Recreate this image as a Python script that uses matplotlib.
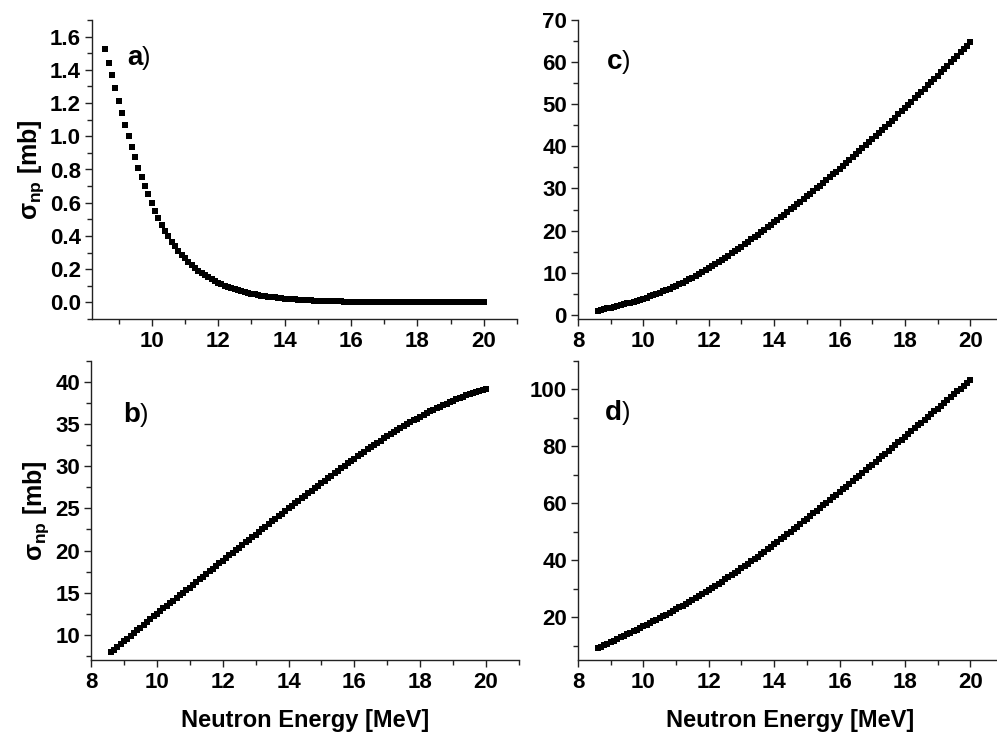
import numpy as np
import matplotlib
matplotlib.use('Agg')
import matplotlib.pyplot as plt
from matplotlib.ticker import MultipleLocator

plt.rcParams['font.family'] = ['Liberation Sans', 'DejaVu Sans']
plt.rcParams['font.weight'] = 'bold'
plt.rcParams['mathtext.fontset'] = 'custom'
plt.rcParams['mathtext.rm'] = 'Liberation Sans:bold'
plt.rcParams['mathtext.it'] = 'Liberation Sans:bold'
plt.rcParams['mathtext.bf'] = 'Liberation Sans:bold'

# neutron energy grid, 8.6 .. 20.0 MeV
energy = np.round(np.arange(86, 201) / 10.0, 1)

sigma_a = [1.523, 1.444, 1.366, 1.289, 1.214, 1.141, 1.069, 0.999, 0.934, 0.873,
           0.812, 0.754, 0.701, 0.650, 0.600, 0.553, 0.509, 0.467, 0.431, 0.397,
           0.366, 0.338, 0.311, 0.287, 0.265, 0.244, 0.225, 0.207, 0.191, 0.176,
           0.163, 0.150, 0.138, 0.128, 0.118, 0.108, 0.100, 0.092, 0.085, 0.079,
           0.072, 0.067, 0.062, 0.057, 0.052, 0.048, 0.045, 0.041, 0.038, 0.035,
           0.032, 0.030, 0.027, 0.025, 0.023, 0.021, 0.020, 0.018, 0.017, 0.015,
           0.014, 0.013, 0.012, 0.011, 0.010, 0.009, 0.009, 0.008, 0.007, 0.007,
           0.006, 0.006, 0.005, 0.005, 0.004,
           0.004, 0.004, 0.003, 0.003, 0.003, 0.003, 0.002, 0.002, 0.002, 0.002,
           0.002, 0.002, 0.002, 0.001, 0.001, 0.001, 0.001, 0.001, 0.001, 0.001,
           0.001, 0.001, 0.001, 0.001, 0.001, 0.001, 0.001, 0.000, 0.000, 0.000,
           0.000, 0.000, 0.000, 0.000, 0.000, 0.000, 0.000, 0.000, 0.000, 0.000]

sigma_b = [7.90, 8.23, 8.55, 8.88, 9.20,
           9.53, 9.86, 10.19, 10.52, 10.85, 11.18, 11.51, 11.84, 12.17, 12.50,
           12.81, 13.12, 13.43, 13.74, 14.05, 14.36, 14.67, 14.98, 15.29, 15.60,
           15.92, 16.24, 16.56, 16.88, 17.20, 17.52, 17.84, 18.16, 18.48, 18.80,
           19.11, 19.42, 19.73, 20.04, 20.35, 20.66, 20.97, 21.28, 21.59, 21.90,
           22.21, 22.52, 22.83, 23.14, 23.45, 23.76, 24.07, 24.38, 24.69, 25.00,
           25.30, 25.60, 25.90, 26.20, 26.50, 26.80, 27.10, 27.40, 27.70, 28.00,
           28.30, 28.60, 28.90, 29.19, 29.48, 29.77, 30.06, 30.34, 30.62, 30.90,
           31.18, 31.46, 31.73, 32.00, 32.27, 32.53, 32.79, 33.05, 33.30, 33.55,
           33.80, 34.05, 34.29, 34.53, 34.77, 35.00, 35.23, 35.45, 35.67, 35.89,
           36.10, 36.31, 36.51, 36.71, 36.90, 37.09, 37.27, 37.45, 37.62, 37.79,
           37.95, 38.11, 38.26, 38.41, 38.55, 38.69, 38.82, 38.95, 39.07, 39.19]

sigma_c = [1.00, 1.17, 1.34, 1.52, 1.70,
           1.89, 2.08, 2.28, 2.48, 2.69, 2.91, 3.13, 3.35, 3.57, 3.80,
           4.07, 4.35, 4.64, 4.94, 5.25, 5.57, 5.89, 6.22, 6.56, 6.90,
           7.27, 7.65, 8.04, 8.44, 8.85, 9.27, 9.70, 10.14, 10.59, 11.05,
           11.53, 12.02, 12.52, 13.03, 13.54, 14.06, 14.58, 15.11, 15.65, 16.20,
           16.76, 17.32, 17.89, 18.46, 19.04, 19.62, 20.21, 20.80, 21.40, 22.00,
           22.60, 23.20, 23.80, 24.41, 25.02, 25.63, 26.24, 26.86, 27.48, 28.10,
           28.73, 29.37, 30.02, 30.67, 31.33, 31.99, 32.66, 33.33, 34.01, 34.70,
           35.38, 36.07, 36.76, 37.46, 38.16, 38.86, 39.57, 40.28, 40.99, 41.70,
           42.42, 43.14, 43.87, 44.60, 45.34, 46.08, 46.83, 47.58, 48.34, 49.10,
           49.86, 50.62, 51.39, 52.16, 52.93, 53.70, 54.47, 55.25, 56.03, 56.81,
           57.59, 58.37, 59.16, 59.95, 60.74, 61.53, 62.32, 63.12, 63.92, 64.72]

sigma_d = [9.20, 9.72, 10.24, 10.77, 11.30,
           11.83, 12.37, 12.91, 13.46, 14.01, 14.56, 15.11, 15.67, 16.23, 16.80,
           17.37, 17.95, 18.54, 19.13, 19.73, 20.33, 20.94, 21.55, 22.17, 22.80,
           23.44, 24.09, 24.75, 25.42, 26.10, 26.78, 27.47, 28.17, 28.88, 29.60,
           30.32, 31.05, 31.79, 32.54, 33.30, 34.06, 34.83, 35.61, 36.40, 37.20,
           38.00, 38.81, 39.63, 40.46, 41.30, 42.14, 42.99, 43.85, 44.72, 45.60,
           46.47, 47.35, 48.24, 49.13, 50.03, 50.93, 51.84, 52.75, 53.67, 54.60,
           55.52, 56.45, 57.38, 58.32, 59.26, 60.20, 61.14, 62.09, 63.04, 64.00,
           64.95, 65.90, 66.86, 67.82, 68.78, 69.74, 70.70, 71.67, 72.64, 73.60,
           74.57, 75.54, 76.52, 77.50, 78.48, 79.46, 80.44, 81.42, 82.41, 83.40,
           84.39, 85.38, 86.37, 87.36, 88.35, 89.34, 90.33, 91.32, 92.31, 93.30,
           94.30, 95.30, 96.30, 97.30, 98.30, 99.30, 100.30, 101.30, 102.30, 103.30]

W, H = 997, 740
fig = plt.figure(figsize=(W / 100, H / 100), dpi=100)


def make_ax(l, t, r, b):
    return fig.add_axes([l / W, 1 - b / H, (r - l) / W, (b - t) / H])


ax_a = make_ax(92, 20, 517, 319)
ax_b = make_ax(91, 361, 519, 660)
ax_c = make_ax(578, 20, 1003, 319)
ax_d = make_ax(578, 361, 1003, 660)

panels = [
    (ax_a, sigma_a, 'a', (8.2, 21), (-0.1, 1.7), 0.2, 0.1, (0.082, 0.873)),
    (ax_b, sigma_b, 'b', (8, 21), (7, 42.5), 5, 2.5, (0.075, 0.82)),
    (ax_c, sigma_c, 'c', (8, 21), (-1, 70), 10, 5, (0.067, 0.86)),
    (ax_d, sigma_d, 'd', (8, 21), (5, 110), 20, 10, (0.064, 0.826)),
]

for ax, vals, letter, xl, yl, ymaj, ymin, pos in panels:
    ax.plot(energy, vals, 's', ms=4.8, mew=0, color='black')
    ax.set_xlim(*xl)
    ax.set_ylim(*yl)
    ax.xaxis.set_major_locator(MultipleLocator(2))
    ax.xaxis.set_minor_locator(MultipleLocator(1))
    ax.yaxis.set_major_locator(MultipleLocator(ymaj))
    ax.yaxis.set_minor_locator(MultipleLocator(ymin))
    ax.spines['top'].set_visible(False)
    ax.spines['right'].set_visible(False)
    for s in ['left', 'bottom']:
        ax.spines[s].set_linewidth(1.0)
        ax.spines[s].set_color('#222222')
    ax.tick_params(which='major', direction='out', length=5, width=1,
                   labelsize=16, pad=3, color='#222222')
    ax.tick_params(which='minor', direction='out', length=3.5, width=1,
                   color='#222222')
    ax.tick_params(axis='x', which='major', pad=4)
    for lab in ax.get_xticklabels() + ax.get_yticklabels():
        lab.set_fontweight('bold')
    t = ax.text(pos[0], pos[1], letter, transform=ax.transAxes, fontsize=20,
                fontweight='bold', ha='left', va='center')
    ax.annotate(')', xy=(1, 0.5), xycoords=t, xytext=(0, 0),
                textcoords='offset points', fontsize=18, fontweight='normal',
                ha='left', va='center')

for ax in (ax_a, ax_b):
    ax.set_ylabel(r'$\sigma_{np}$ [mb]', fontsize=18, fontweight='bold',
                  labelpad=3)
for ax in (ax_b, ax_d):
    ax.set_xlabel('Neutron Energy [MeV]', fontsize=17, fontweight='bold',
                  labelpad=11)

fig.savefig('out.png', dpi=100)
